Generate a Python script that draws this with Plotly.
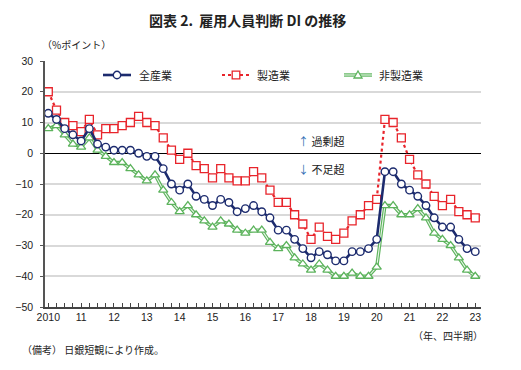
import plotly.graph_objects as go

quarters = list(range(53))  # 2010Q1 .. 2023Q1
year_labels = ["2010", "11", "12", "13", "14", "15", "16", "17", "18", "19", "20", "21", "22", "23"]

all_ind = [13, 11, 8, 6, 4, 8, 3, 2, 1, 1, 1, 0, -1, -1, -5, -10, -12, -10, -14, -15,
           -17, -15, -16, -19, -18, -17, -19, -21, -25, -25, -28, -31, -34, -32, -33, -35,
           -35, -32, -32, -31, -28, -6, -6, -10, -12, -14, -17, -21, -24, -24, -28, -31, -32]
manuf = [20, 14, 10, 9, 7, 11, 6, 8, 8, 9, 10, 12, 10, 9, 5, 1, -2, 0, -4, -5,
         -8, -5, -8, -9, -9, -6, -8, -12, -16, -16, -20, -23, -28, -24, -27, -28,
         -26, -22, -20, -17, -15, 11, 10, 5, -2, -7, -10, -14, -17, -15, -19, -20, -21]
nonmanuf = [8, 9, 6, 3, 2, 5, 1, -1, -3, -3, -5, -7, -9, -7, -12, -16, -19, -17, -20, -22,
            -24, -22, -23, -25, -26, -25, -25, -29, -31, -30, -34, -36, -38, -36, -38, -40,
            -40, -39, -40, -40, -37, -17, -17, -20, -20, -18, -21, -26, -28, -30, -34, -38, -40]

NAVY = "#1c2b6e"
RED = "#e8242b"
GREEN = "#5cb35c"
FONT = "Arial, Liberation Sans, Noto Sans CJK JP, sans-serif"
JFONT = "Noto Sans CJK JP, sans-serif"

OFF = 8  # page body margin
FW, FH = 521 - OFF, 370 - OFF
# plot area in screen pixels
L, R, T, B = 45, 481, 61, 307
W, H = R - L, B - T


def px(x):
    return (x - L) / W


def py(y):
    return (B - y) / H


fig = go.Figure()

fig.add_trace(go.Scatter(x=quarters, y=nonmanuf, mode="lines", name="非製造業",
                         line=dict(color=GREEN, width=3.4), hoverinfo="skip"))
fig.add_trace(go.Scatter(x=quarters, y=nonmanuf, mode="lines", showlegend=False,
                         line=dict(color="#eaf6ea", width=1.1), hoverinfo="skip"))
fig.add_trace(go.Scatter(x=quarters, y=nonmanuf, mode="markers", showlegend=False,
                         marker=dict(symbol="triangle-up", size=8, color="white",
                                     line=dict(color=GREEN, width=1.3))))

fig.add_trace(go.Scatter(x=quarters, y=manuf, mode="lines+markers", name="製造業",
                         line=dict(color=RED, width=2.2, dash="dot"),
                         marker=dict(symbol="square", size=8, color="white",
                                     line=dict(color=RED, width=1.3))))

fig.add_trace(go.Scatter(x=quarters, y=all_ind, mode="lines+markers", name="全産業",
                         line=dict(color=NAVY, width=2.6),
                         marker=dict(symbol="circle", size=7.5, color="white",
                                     line=dict(color=NAVY, width=1.4))))

fig.update_layout(
    width=FW, height=FH,
    margin=dict(l=L - OFF, r=FW - (R - OFF), t=T - OFF, b=FH - (B - OFF), autoexpand=False),
    paper_bgcolor="white", plot_bgcolor="white",
    font=dict(family=FONT, size=10, color="#222"),
    showlegend=False,
    xaxis=dict(range=[-0.4, 52.7], tickmode="array",
               tickvals=[4 * i for i in range(len(year_labels))], ticktext=year_labels,
               ticks="inside", ticklen=4, tickcolor="#444", tickwidth=1,
               minor=dict(dtick=1, tick0=0, ticks="inside", ticklen=4, tickcolor="#444", tickwidth=1),
               showline=True, linecolor="#444", linewidth=1.5, showgrid=False, zeroline=False,
               tickfont=dict(family=FONT, size=10.5, color="#222"), fixedrange=True,
               automargin=False),
    yaxis=dict(range=[-50, 30], dtick=10, tick0=0, showgrid=True, gridcolor="#d9d9d9", gridwidth=1.5,
               zeroline=True, zerolinecolor="black", zerolinewidth=1.2,
               showline=True, linecolor="#555", linewidth=1.5,
               ticks="outside", ticklen=3, tickcolor="#555",
               tickfont=dict(family=FONT, size=10.5, color="#222"), ticklabelstandoff=5,
               fixedrange=True, automargin=False),
)

# manual legend
ly = 75
fig.add_shape(type="line", xref="paper", yref="paper", x0=px(103), x1=px(131), y0=py(ly), y1=py(ly),
              line=dict(color=NAVY, width=2.6))
fig.add_shape(type="circle", xref="paper", yref="paper", x0=px(113.3), x1=px(120.7),
              y0=py(ly + 3.7), y1=py(ly - 3.7), fillcolor="white", line=dict(color=NAVY, width=1.4))
fig.add_annotation(text="全産業", xref="paper", yref="paper", x=px(137), y=py(ly),
                   xanchor="left", yanchor="middle", showarrow=False,
                   font=dict(family=JFONT, size=11, color="#222"))
fig.add_shape(type="line", xref="paper", yref="paper", x0=px(222), x1=px(250), y0=py(ly), y1=py(ly),
              line=dict(color=RED, width=2.2, dash="dot"))
fig.add_shape(type="rect", xref="paper", yref="paper", x0=px(232.2), x1=px(239.8),
              y0=py(ly + 3.8), y1=py(ly - 3.8), fillcolor="white", line=dict(color=RED, width=1.3))
fig.add_annotation(text="製造業", xref="paper", yref="paper", x=px(255), y=py(ly),
                   xanchor="left", yanchor="middle", showarrow=False,
                   font=dict(family=JFONT, size=11, color="#222"))
fig.add_shape(type="line", xref="paper", yref="paper", x0=px(344), x1=px(372), y0=py(ly), y1=py(ly),
              line=dict(color=GREEN, width=3.4))
fig.add_shape(type="line", xref="paper", yref="paper", x0=px(344), x1=px(372), y0=py(ly), y1=py(ly),
              line=dict(color="#eaf6ea", width=1.1))
tx = 358
fig.add_shape(type="path", xref="paper", yref="paper",
              path=f"M {px(tx - 4)} {py(ly + 3)} L {px(tx + 4)} {py(ly + 3)} L {px(tx)} {py(ly - 4)} Z",
              fillcolor="white", line=dict(color=GREEN, width=1.3))
fig.add_annotation(text="非製造業", xref="paper", yref="paper", x=px(377), y=py(ly),
                   xanchor="left", yanchor="middle", showarrow=False,
                   font=dict(family=JFONT, size=11, color="#222"))

fig.add_annotation(text="<b>図表 2.  雇用人員判断 DI の推移</b>", xref="paper", yref="paper",
                   x=px(247), y=py(20), xanchor="center", yanchor="middle", showarrow=False,
                   font=dict(family=JFONT, size=14, color="#222"))
fig.add_annotation(text="（%ポイント）", xref="paper", yref="paper",
                   x=px(40), y=py(44), xanchor="left", yanchor="middle", showarrow=False,
                   font=dict(family=JFONT, size=10, color="#222"))
fig.add_annotation(text="<span style='color:#2f6fb5'>↑</span> 過剰超", xref="paper", yref="paper",
                   x=px(296), y=py(141), xanchor="left", yanchor="middle", showarrow=False,
                   font=dict(family=JFONT, size=11, color="#222"))
fig.add_annotation(text="<span style='color:#2f6fb5'>↓</span> 不足超", xref="paper", yref="paper",
                   x=px(296), y=py(169), xanchor="left", yanchor="middle", showarrow=False,
                   font=dict(family=JFONT, size=11, color="#222"))
fig.add_annotation(text="（年、四半期）", xref="paper", yref="paper",
                   x=px(485), y=py(335), xanchor="right", yanchor="middle", showarrow=False,
                   font=dict(family=JFONT, size=10, color="#222"))
fig.add_annotation(text="（備考） 日銀短観により作成。", xref="paper", yref="paper",
                   x=px(20), y=py(349), xanchor="left", yanchor="middle", showarrow=False,
                   font=dict(family=JFONT, size=10, color="#222"))

fig.write_html("out.html")
